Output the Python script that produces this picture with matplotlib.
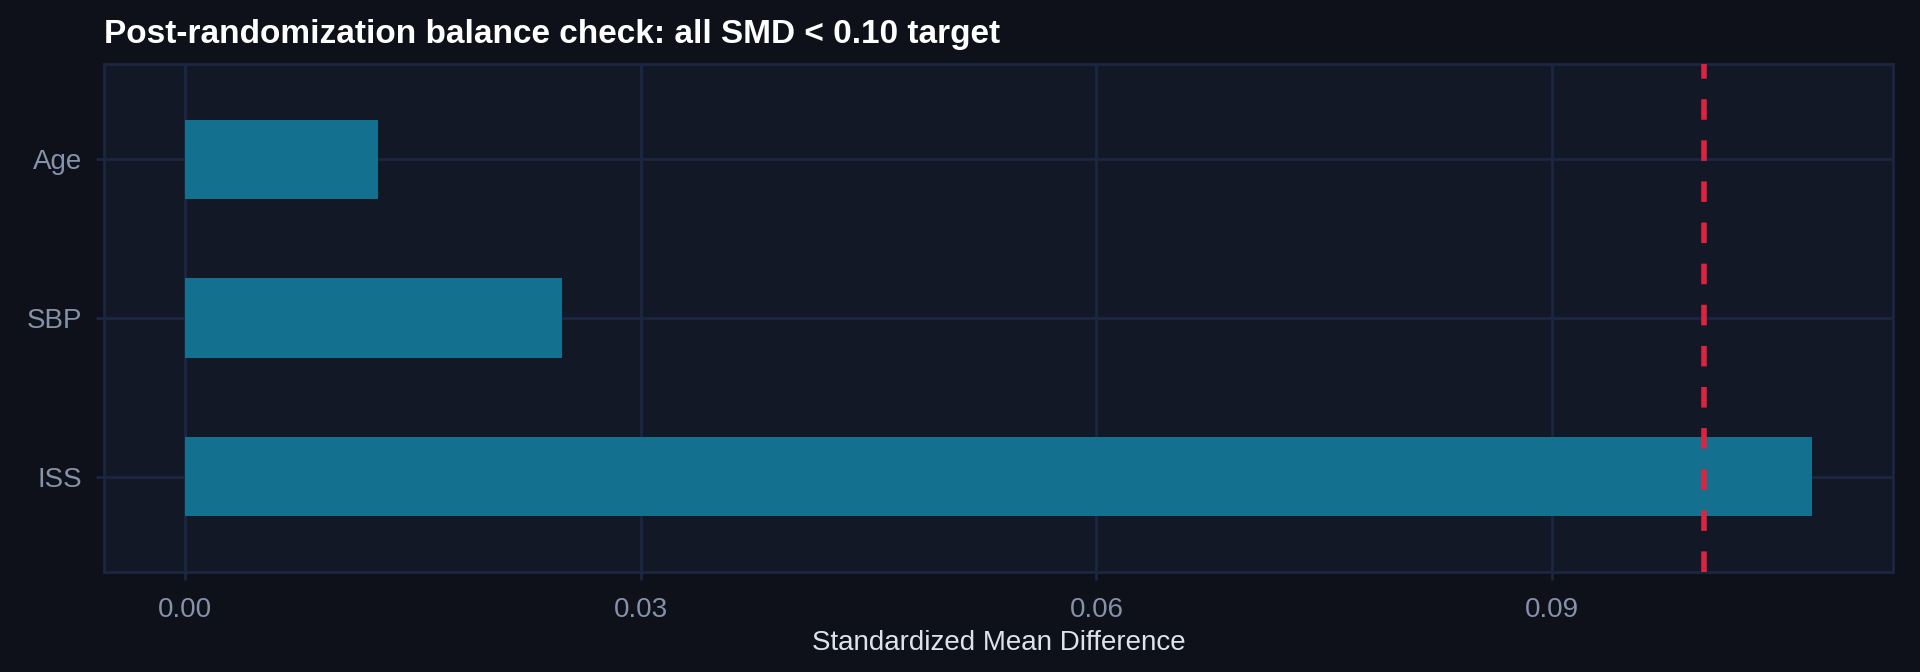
import matplotlib.pyplot as plt

# balance check values (standardized mean difference)
covariates = ["Age", "SBP", "ISS"]
smd = [0.0127, 0.0248, 0.1071]
threshold = 0.10
xticks = [0.00, 0.03, 0.06, 0.09]

fig_bg = "#0e1119"
panel_bg = "#121826"
grid_col = "#1b2641"
bar_col = "#13718f"
red = "#dc2440"
tick_col = "#8592aa"

plt.rcParams["font.family"] = ["Liberation Sans", "DejaVu Sans"]

fig, ax = plt.subplots(figsize=(19.2, 6.72), dpi=100)
fig.patch.set_facecolor(fig_bg)
ax.set_facecolor(panel_bg)
fig.subplots_adjust(left=104 / 1920, right=1893 / 1920, top=1 - 64 / 672, bottom=1 - 572 / 672)

ypos = list(range(len(covariates)))
ax.barh(ypos, smd, height=0.5, color=bar_col, zorder=2)
ax.axvline(threshold, color=red, lw=4, dashes=(3.7, 3.7), zorder=3)

xmax = max(smd)
ax.set_xlim(-0.05 * xmax, 1.05 * xmax)
ax.set_ylim(len(covariates) - 0.4, -0.6)
ax.set_yticks(ypos)
ax.set_yticklabels(covariates)
ax.set_xticks(xticks)
ax.set_xticklabels([f"{t:.2f}" for t in xticks])

ax.grid(True, color=grid_col, lw=2, zorder=0)
ax.set_axisbelow(True)
for s in ax.spines.values():
    s.set_color(grid_col)
    s.set_linewidth(2)

ax.tick_params(axis="both", colors=grid_col, labelcolor=tick_col, labelsize=20,
               length=6, width=2)
ax.tick_params(axis="y", pad=10)
ax.tick_params(axis="x", pad=12)

ax.set_xlabel("Standardized Mean Difference", color="#dde3ec", fontsize=20, labelpad=5)
ax.set_title("Post-randomization balance check: all SMD < 0.10 target",
             loc="left", color="white", fontsize=24, fontweight="bold", pad=15)

fig.savefig("out.png", dpi=100, facecolor=fig_bg)
